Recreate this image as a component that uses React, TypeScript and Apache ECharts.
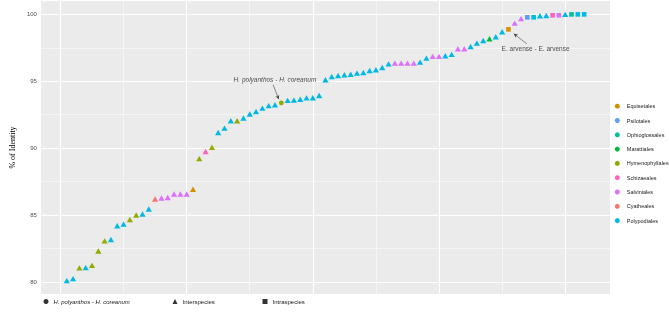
import React, { useEffect, useRef } from "react";
import * as echarts from "echarts";

const orderNames = ["Equisetales", "Psilotales", "Ophioglossales", "Marattiales", "Hymenophyllales", "Schizaeales", "Salviniales", "Cyatheales", "Polypodiales"];
const orderColors = ["#D39200", "#619CFF", "#00C19F", "#00BA38", "#93AA00", "#FF61C3", "#DB72FB", "#F8766D", "#00B9E3"];

const identity = [
  80.1, 80.25, 81.05, 81.07, 81.24, 82.31, 83.07, 83.17, 84.2, 84.32,
  84.67, 85.0, 85.08, 85.45, 86.2, 86.27, 86.31, 86.58, 86.58, 86.58,
  86.93, 89.22, 89.75, 90.07, 91.17, 91.5, 92.05, 92.05, 92.26, 92.55,
  92.74, 92.99, 93.18, 93.24, 93.38, 93.57, 93.59, 93.66, 93.76, 93.77,
  93.94, 95.11, 95.36, 95.43, 95.49, 95.53, 95.61, 95.66, 95.81, 95.86,
  96.03, 96.3, 96.36, 96.36, 96.36, 96.36, 96.43, 96.73, 96.86, 96.86,
  96.91, 97.01, 97.43, 97.43, 97.6, 97.85, 98.05, 98.18, 98.33, 98.7,
  98.88, 99.35, 99.68, 99.78, 99.78, 99.9, 99.92, 99.93, 99.93, 100.0,
  100.0, 100.0, 100.0,
];

const pointOrder = [
  "Polypodiales", "Polypodiales", "Hymenophyllales", "Polypodiales", "Hymenophyllales", "Hymenophyllales", "Hymenophyllales", "Polypodiales", "Polypodiales", "Polypodiales",
  "Hymenophyllales", "Hymenophyllales", "Polypodiales", "Polypodiales", "Cyatheales", "Salviniales", "Salviniales", "Salviniales", "Salviniales", "Salviniales",
  "Equisetales", "Hymenophyllales", "Schizaeales", "Hymenophyllales", "Polypodiales", "Polypodiales", "Polypodiales", "Hymenophyllales", "Polypodiales", "Polypodiales",
  "Polypodiales", "Polypodiales", "Polypodiales", "Polypodiales", "Hymenophyllales", "Polypodiales", "Polypodiales", "Polypodiales", "Polypodiales", "Polypodiales",
  "Polypodiales", "Polypodiales", "Polypodiales", "Polypodiales", "Polypodiales", "Polypodiales", "Polypodiales", "Polypodiales", "Polypodiales", "Polypodiales",
  "Polypodiales", "Polypodiales", "Salviniales", "Salviniales", "Salviniales", "Salviniales", "Polypodiales", "Polypodiales", "Salviniales", "Salviniales",
  "Polypodiales", "Polypodiales", "Salviniales", "Salviniales", "Polypodiales", "Polypodiales", "Polypodiales", "Marattiales", "Polypodiales", "Polypodiales",
  "Equisetales", "Salviniales", "Salviniales", "Psilotales", "Polypodiales", "Polypodiales", "Polypodiales", "Schizaeales", "Salviniales", "Polypodiales",
  "Ophioglossales", "Polypodiales", "Polypodiales",
];

// C = H. polyanthos - H. coreanum, I = Interspecies, A = Intraspecies
const pointType = [
  "I", "I", "I", "I", "I", "I", "I", "I", "I", "I",
  "I", "I", "I", "I", "I", "I", "I", "I", "I", "I",
  "I", "I", "I", "I", "I", "I", "I", "I", "I", "I",
  "I", "I", "I", "I", "C", "I", "I", "I", "I", "I",
  "I", "I", "I", "I", "I", "I", "I", "I", "I", "I",
  "I", "I", "I", "I", "I", "I", "I", "I", "I", "I",
  "I", "I", "I", "I", "I", "I", "I", "I", "I", "I",
  "A", "I", "I", "A", "A", "I", "I", "A", "A", "I",
  "A", "A", "A",
];

const typeNames = ["H. polyanthos - H. coreanum", "Interspecies", "Intraspecies"];
const typeCodes = ["C", "I", "A"];
const typeSymbols = ["circle", "triangle", "rect"];
const typeSizes: any[] = [4.8, [6.2, 5.4], 4.6];

const yTicks = [80, 85, 90, 95, 100];
const yMinor = [82.5, 87.5, 92.5, 97.5];
const xMajor = [0, 20, 40, 60, 80];
const xMinor = [10, 30, 50, 70];

const annotTexts = ["H. polyanthos - H. coreanum", "E. arvense - E. arvense"];
const annotTextPos = [[34.0, 95.16], [75.3, 97.43]];
const annotArrowFrom = [[33.7, 94.74], [73.9, 97.81]];
const annotArrowTo = [[34.6, 93.66], [71.85, 98.55]];
const annotItalic = [true, false];

export default function App() {
  const ref = useRef<HTMLDivElement>(null);
  useEffect(() => {
    document.body.style.margin = "0";
    const chart = echarts.init(ref.current!, null, { renderer: "svg" });
    const font = "Liberation Sans";

    const orderSeries = orderNames.map((name, oi) => ({
      name,
      type: "scatter",
      z: 5,
      itemStyle: { color: orderColors[oi], opacity: 1 },
      data: identity
        .map((v, i) => ({ i, v }))
        .filter((d) => pointOrder[d.i] === name)
        .map((d) => {
          const ti = typeCodes.indexOf(pointType[d.i]);
          return { value: [d.i + 1, d.v], symbol: typeSymbols[ti], symbolSize: typeSizes[ti] };
        }),
    }));

    const typeSeries = typeNames.map((name, ti) => ({
      name,
      type: "scatter",
      symbol: typeSymbols[ti],
      itemStyle: { color: "#000" },
      data: [],
    }));

    const gridSeries = {
      name: "grid",
      type: "scatter",
      z: 1,
      silent: true,
      data: [],
      markLine: {
        z: 1,
        silent: true,
        symbol: ["none", "none"],
        label: { show: false },
        animation: false,
        data: [
          ...yMinor.map((v) => ({ yAxis: v, lineStyle: { color: "#fff", width: 0.5, type: "solid" } })),
          ...xMinor.map((v) => ({ xAxis: v, lineStyle: { color: "#fff", width: 0.5, type: "solid" } })),
          ...yTicks.map((v) => ({ yAxis: v, lineStyle: { color: "#fff", width: 1.1, type: "solid" } })),
          ...xMajor.map((v) => ({ xAxis: v, lineStyle: { color: "#fff", width: 1.1, type: "solid" } })),
        ],
      },
    };

    const annotSeries = {
      name: "annot",
      type: "scatter",
      z: 6,
      silent: true,
      symbolSize: 0,
      data: annotTexts.map((t, k) => ({
        value: annotTextPos[k],
        label: {
          show: true,
          position: "inside",
          formatter: t,
          fontFamily: font,
          fontSize: 6.5,
          fontStyle: annotItalic[k] ? "italic" : "normal",
          color: "#222",
        },
      })),
      markLine: {
        z: 6,
        silent: true,
        symbol: ["none", "arrow"],
        symbolSize: [3, 4],
        label: { show: false },
        lineStyle: { color: "#444", width: 0.6, type: "solid" },
        data: annotTexts.map((_, k) => [{ coord: annotArrowFrom[k] }, { coord: annotArrowTo[k] }]),
      },
    };

    const legendText = { fontFamily: font, fontSize: 6, color: "#1A1A1A" };

    chart.setOption({
      animation: false,
      grid: {
        left: 20,
        right: 59,
        top: 1,
        bottom: 18,
        show: true,
        backgroundColor: "#EBEBEB",
        borderWidth: 0,
      },
      xAxis: {
        type: "value",
        min: -3.1,
        max: 87.1,
        axisLabel: { show: false },
        axisTick: { show: false },
        axisLine: { show: false },
        splitLine: { show: false },
      },
      yAxis: {
        type: "value",
        min: 79.1,
        max: 101,
        name: "% of Identity",
        nameLocation: "middle",
        nameRotate: 90,
        nameGap: 15,
        nameTextStyle: { fontFamily: "Liberation Serif", fontSize: 8, color: "#000" },
        axisLabel: { customValues: yTicks, fontFamily: font, fontSize: 6, color: "#4D4D4D", margin: 4 },
        axisTick: { show: true, customValues: yTicks, length: 2.5, lineStyle: { color: "#333", width: 0.5 } },
        axisLine: { show: false },
        splitLine: { show: false },
      },
      legend: [
        {
          data: orderNames,
          orient: "vertical",
          left: 614.8,
          top: 103.2,
          padding: 0,
          icon: "circle",
          itemWidth: 5,
          itemHeight: 5,
          itemGap: 8.3,
          selectedMode: false,
          textStyle: { ...legendText, fontSize: 5.5, padding: [0, 0, 0, 2] },
        },
        ...typeNames.map((n, ti) => ({
          data: [n],
          orient: "horizontal",
          left: [43.5, 172.5, 262.5][ti],
          top: 298.5,
          padding: 0,
          icon: typeSymbols[ti],
          itemWidth: 5,
          itemHeight: 5,
          selectedMode: false,
          textStyle: { ...legendText, fontStyle: ti === 0 ? "italic" : "normal" },
        })),
      ],
      series: [gridSeries, ...orderSeries, ...typeSeries, annotSeries],
    });
    return () => chart.dispose();
  }, []);
  return <div ref={ref} style={{ position: "fixed", left: 0, top: 0, width: 669, height: 312 }} />;
}
